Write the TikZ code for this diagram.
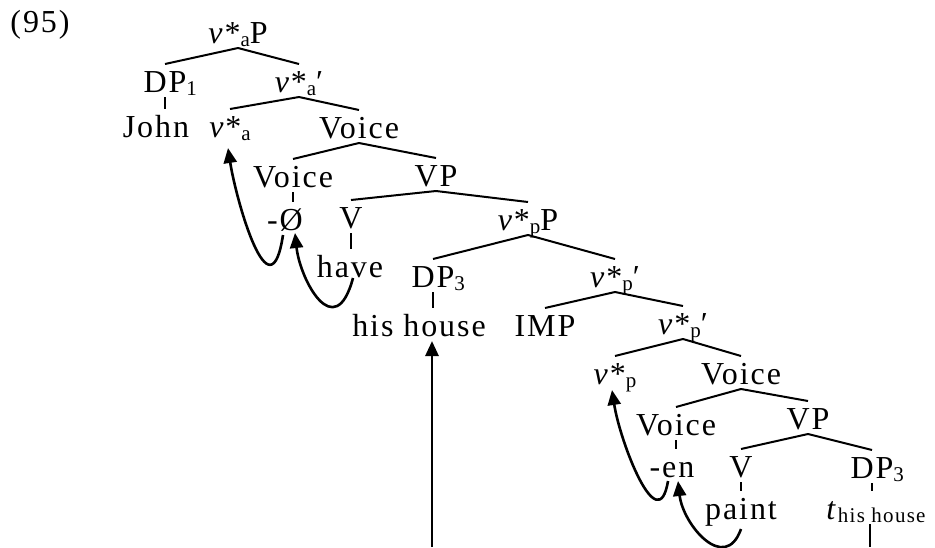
\documentclass[tikz,border=0pt]{standalone}
\usepackage{fontspec}
\setmainfont{Liberation Serif}[LetterSpace=6]
\usetikzlibrary{arrows.meta,calc}
\newcommand{\lo}[1]{\raisebox{-3pt}{\fontsize{21}{21}\selectfont #1}}

\begin{document}
\begin{tikzpicture}[x=1pt,y=-1pt,font=\fontsize{32}{38}\selectfont,
    lbl/.style={anchor=base,inner sep=0pt,outer sep=0pt,text height=28pt,text depth=5pt},
    br/.style={line width=2pt},
    mv/.style={line width=2.6pt,-{Triangle[length=15pt,width=13pt]}}]
      \useasboundingbox (0,0) rectangle (935,547);

      \node[lbl] (ex) at (40,32) {(95)};
      \node[lbl] (vaP) at (238,43) {\textit{v}*\lo{a}P};
      \node[lbl] (DPa) at (165,92) {DP\rlap{\lo{1}}};
      \node[lbl] (vab) at (299,92) {\textit{v}*\lo{a}′};
      \node[lbl] (john) at (156,137) {John};
      \node[lbl] (va) at (230,137) {\textit{v}*\lo{a}};
      \node[lbl] (voiceA) at (359,138) {Voice};
      \node[lbl] (voiceB) at (293,187) {Voice};
      \node[lbl] (vpA) at (436,186) {VP};
      \node[lbl] (zero) at (285,230) {-Ø};
      \node[lbl] (vA) at (351,228) {V};
      \node[lbl] (vpP) at (528,230) {\textit{v}*\lo{p}P};
      \node[lbl] (have) at (350,277) {have};
      \node[lbl] (DPb) at (433,287) {DP\rlap{\lo{3}}};
      \node[lbl] (vpbA) at (615,287) {\textit{v}*\lo{p}′};
      \node[lbl] (house) at (419,336) {his house};
      \node[lbl] (imp) at (545,336) {IMP};
      \node[lbl] (vpbB) at (683,334) {\textit{v}*\lo{p}′};
      \node[lbl] (vp) at (615,384) {\textit{v}*\lo{p}};
      \node[lbl] (voiceC) at (741,384) {Voice};
      \node[lbl] (voiceD) at (676,435) {Voice};
      \node[lbl] (vpB) at (808,429) {VP};
      \node[lbl] (en) at (672,477) {-en};
      \node[lbl] (vB) at (741,477) {V};
      \node[lbl] (DPc) at (872,478) {DP\rlap{\lo{3}}};
      \node[lbl] (paint) at (741,519) {paint};
      \node[lbl] (trace) at (876,519) {\textit{t}\lo{his house}};

      \draw[br] (vaP.south) -- (DPa.north);
      \draw[br] (vaP.south) -- (vab.north);
      \draw[br] (DPa.south) -- (DPa.south |- john.north);
      \draw[br] (vab.south) -- (va.north);
      \draw[br] (vab.south) -- (voiceA.north);
      \draw[br] (voiceA.south) -- (voiceB.north);
      \draw[br] (voiceA.south) -- (vpA.north);
      \draw[br] (voiceB.south) -- (voiceB.south |- zero.north);
      \draw[br] (vpA.south) -- (vA.north);
      \draw[br] (vpA.south) -- (vpP.north);
      \draw[br] (vA.south) -- (vA.south |- have.north);
      \draw[br] (vpP.south) -- (DPb.north);
      \draw[br] (vpP.south) -- (vpbA.north);
      \draw[br] (DPb.south) -- (DPb.south |- house.north);
      \draw[br] (vpbA.south) -- (imp.north);
      \draw[br] (vpbA.south) -- (vpbB.north);
      \draw[br] (vpbB.south) -- (vp.north);
      \draw[br] (vpbB.south) -- (voiceC.north);
      \draw[br] (voiceC.south) -- (voiceD.north);
      \draw[br] (voiceC.south) -- (vpB.north);
      \draw[br] (voiceD.south) -- (voiceD.south |- en.north);
      \draw[br] (vpB.south) -- (vB.north);
      \draw[br] (vpB.south) -- (DPc.north);
      \draw[br] (vB.south) -- (vB.south |- paint.north);
      \draw[br] (DPc.south) -- (DPc.south |- trace.north);

      \coordinate (hbot) at (432,547);
      \coordinate (tbot) at (870,547);
      \draw[mv,line width=2.8pt] (hbot) -- (hbot |- house.south);
      \draw[br,line width=2.4pt] (tbot |- trace.south) -- (tbot);

      \draw[mv] ($(zero.south)+(-2,0)$) .. controls +(-13,85) and +(8,52) .. ($(va.south)+(-2,6)$);
      \draw[mv] ($(have.south)+(3,-4)$) .. controls +(-18,67) and +(5,47) .. ($(zero.south)+(10,-2)$);
      \draw[mv] ($(en.south)+(-4,-1)$) .. controls +(-10,60) and +(8,52) .. ($(vp.south)+(-3,1)$);
      \draw[mv] ($(paint.south)+(0,5)$) .. controls +(-16,45) and +(5,44) .. ($(en.south)+(6,-1)$);
   \end{tikzpicture}
\end{document}
